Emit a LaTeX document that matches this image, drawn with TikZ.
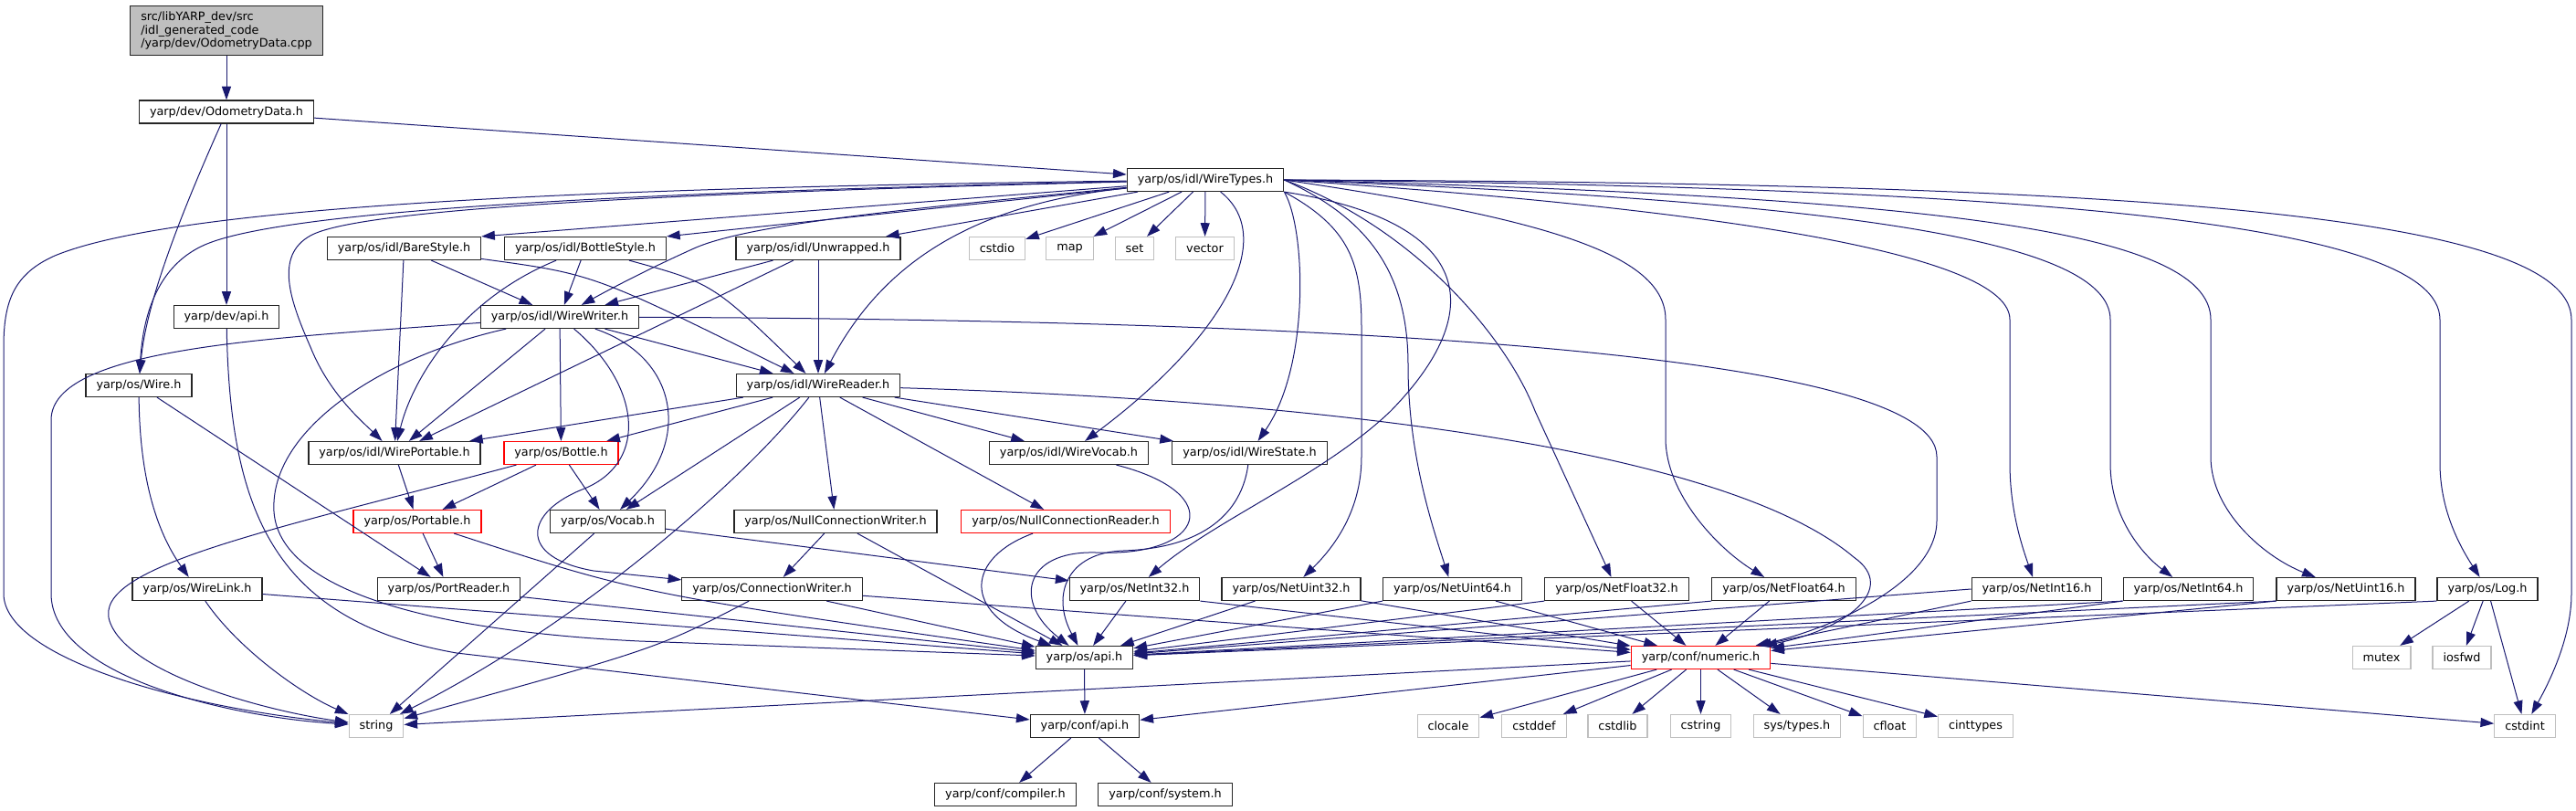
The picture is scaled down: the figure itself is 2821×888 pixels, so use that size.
\documentclass[tikz,border=0pt]{standalone}
\usepackage{fontspec}
\setmainfont{DejaVu Sans}
\usetikzlibrary{arrows.meta}
\definecolor{incblue}{RGB}{25,25,112}
\definecolor{grey75}{RGB}{191,191,191}

\begin{document}
\begin{tikzpicture}[x=0.75pt,y=-0.75pt,
  hdr/.style={draw=black!85,line width=0.9pt,fill=white,inner xsep=8.6pt,inner ysep=0pt,
    minimum height=18.75pt,font=\fontsize{9.6}{11.2}\selectfont},
  sys/.style={hdr,draw=grey75},
  cut/.style={hdr,draw=red},
  inc/.style={incblue,line width=0.75pt,-{Triangle[length=11pt,width=7.5pt]}}]
  \useasboundingbox (0,0) rectangle (2821,888);

  \node[hdr,fill=grey75,align=left,minimum height=41pt] (root) at (248,33.5)
    {src/libYARP\_dev/src\\/idl\_generated\_code\\/yarp/dev/OdometryData.cpp};
  \node[hdr] (odom) at (248,122.5) {yarp/dev/OdometryData.h};
  \node[hdr] (wtypes) at (1320,197) {yarp/os/idl/WireTypes.h};
  \node[hdr] (bare) at (442.5,272) {yarp/os/idl/BareStyle.h};
  \node[hdr] (bstyle) at (641,272) {yarp/os/idl/BottleStyle.h};
  \node[hdr] (unwr) at (896,272) {yarp/os/idl/Unwrapped.h};
  \node[sys] (cstdio) at (1092,272) {cstdio};
  \node[sys] (map) at (1171.5,272) {map};
  \node[sys] (set) at (1242.5,272) {set};
  \node[sys] (vector) at (1319.5,272) {vector};
  \node[hdr] (devapi) at (248,347) {yarp/dev/api.h};
  \node[hdr] (wwriter) at (613,347) {yarp/os/idl/WireWriter.h};
  \node[hdr] (wire) at (152,422) {yarp/os/Wire.h};
  \node[hdr] (wreader) at (896,422) {yarp/os/idl/WireReader.h};
  \node[hdr] (wport) at (432,496) {yarp/os/idl/WirePortable.h};
  \node[cut] (bottle) at (614.5,496) {yarp/os/Bottle.h};
  \node[hdr] (wvocab) at (1170.5,496) {yarp/os/idl/WireVocab.h};
  \node[hdr] (wstate) at (1368.5,496) {yarp/os/idl/WireState.h};
  \node[cut] (portable) at (457,571) {yarp/os/Portable.h};
  \node[hdr] (vocab) at (665.5,571) {yarp/os/Vocab.h};
  \node[hdr] (ncw) at (915,571) {yarp/os/NullConnectionWriter.h};
  \node[cut] (ncr) at (1167,571) {yarp/os/NullConnectionReader.h};
  \node[hdr] (wlink) at (216,645) {yarp/os/WireLink.h};
  \node[hdr] (preader) at (491.5,645) {yarp/os/PortReader.h};
  \node[hdr] (cwriter) at (845.5,645) {yarp/os/ConnectionWriter.h};
  \node[hdr] (ni32) at (1242.5,645) {yarp/os/NetInt32.h};
  \node[hdr] (nu32) at (1414,645) {yarp/os/NetUint32.h};
  \node[hdr] (nu64) at (1590.5,645) {yarp/os/NetUint64.h};
  \node[hdr] (nf32) at (1770.5,645) {yarp/os/NetFloat32.h};
  \node[hdr] (nf64) at (1953.5,645) {yarp/os/NetFloat64.h};
  \node[hdr] (ni16) at (2230.5,645) {yarp/os/NetInt16.h};
  \node[hdr] (ni64) at (2396.5,645) {yarp/os/NetInt64.h};
  \node[hdr] (nu16) at (2569,645) {yarp/os/NetUint16.h};
  \node[hdr] (log) at (2724,645) {yarp/os/Log.h};
  \node[hdr] (osapi) at (1187.5,720) {yarp/os/api.h};
  \node[cut] (numeric) at (1862.5,720) {yarp/conf/numeric.h};
  \node[sys] (mutex) at (2608,720) {mutex};
  \node[sys] (iosfwd) at (2696,720) {iosfwd};
  \node[sys] (string) at (412,795) {string};
  \node[hdr] (confapi) at (1188,795) {yarp/conf/api.h};
  \node[sys] (clocale) at (1586,795) {clocale};
  \node[sys] (cstddef) at (1680,795) {cstddef};
  \node[sys] (cstdlib) at (1771.5,795) {cstdlib};
  \node[sys] (cstring) at (1862.5,795) {cstring};
  \node[sys] (systypes) at (1968,795) {sys/types.h};
  \node[sys] (cfloat) at (2069.5,795) {cfloat};
  \node[sys] (cinttypes) at (2163.5,795) {cinttypes};
  \node[sys] (cstdint) at (2765,795) {cstdint};
  \node[hdr] (compiler) at (1101,870) {yarp/conf/compiler.h};
  \node[hdr] (system) at (1276,870) {yarp/conf/system.h};

  \draw[inc] (root) -- (odom);
  \draw[inc] (odom) -- (wtypes);
  \draw[inc] (odom) -- (devapi);
  \draw[inc] (odom) .. controls (200,230) and (160,330) .. (wire);
  \draw[inc] (devapi) .. controls (252,560) and (300,680) .. (500,715) -- (confapi);
  \draw[inc] (wire) .. controls (153,520) and (170,580) .. (wlink);
  \draw[inc] (wire) -- (preader);
  \draw[inc] (wlink) .. controls (260,710) and (330,760) .. (string);
  \draw[inc] (wlink) -- (osapi);
  \draw[inc] (preader) -- (osapi);

  \draw[inc] (wtypes) -- (bare.north east);
  \draw[inc] (wtypes) -- (bstyle.north east);
  \draw[inc] (wtypes) -- (unwr);
  \draw[inc] (wtypes) -- (cstdio);
  \draw[inc] (wtypes) -- (map);
  \draw[inc] (wtypes) -- (set);
  \draw[inc] (wtypes) -- (vector);
  \draw[inc] (wtypes) .. controls (1000,228) and (820,245) .. (760,272)
    .. controls (720,290) and (680,310) .. (wwriter);
  \draw[inc] (wtypes) .. controls (1050,225) and (960,300) .. (wreader);
  \draw[inc] (wtypes) .. controls (700,212) and (390,230) .. (340,258)
    .. controls (300,280) and (318,330) .. (340,380) .. controls (360,430) and (395,460) .. (wport);
  \draw[inc] (wtypes) .. controls (700,210) and (300,230) .. (220,270)
    .. controls (175,292) and (157,340) .. (wire);
  \draw[inc] (wtypes) .. controls (700,205) and (200,222) .. (60,280)
    .. controls (15,300) and (4,330) .. (4,380) -- (4,650) .. controls (4,720) and (200,775) .. (string);
  \draw[inc] (wtypes) .. controls (1400,260) and (1340,370) .. (wvocab);
  \draw[inc] (wtypes.south east) .. controls (1430,250) and (1435,400) .. (wstate);
  \draw[inc] (wtypes.south east) .. controls (1600,240) and (1640,330) .. (1523,450)
    .. controls (1450,520) and (1330,570) .. (ni32);
  \draw[inc] (wtypes.south east) .. controls (1480,250) and (1491,290) .. (1491,360)
    -- (1491,500) .. controls (1491,560) and (1460,600) .. (nu32);
  \draw[inc] (wtypes.east) .. controls (1500,240) and (1542,300) .. (1542,400)
    .. controls (1542,500) and (1570,580) .. (nu64);
  \draw[inc] (wtypes.east) .. controls (1550,250) and (1650,370) .. (1681,450) -- (nf32);
  \draw[inc] (wtypes.east) .. controls (1700,240) and (1824,280) .. (1824,350)
    -- (1824,480) .. controls (1824,540) and (1880,600) .. (nf64);
  \draw[inc] (wtypes.east) .. controls (1900,230) and (2201,280) .. (2201,350)
    -- (2201,507) .. controls (2201,560) and (2215,600) .. (ni16);
  \draw[inc] (wtypes.east) .. controls (2000,220) and (2311,260) .. (2311,350)
    -- (2311,507) .. controls (2311,570) and (2350,610) .. (ni64);
  \draw[inc] (wtypes.east) .. controls (2100,215) and (2421,250) .. (2421,350)
    -- (2421,500) .. controls (2421,560) and (2480,610) .. (nu16);
  \draw[inc] (wtypes.east) .. controls (2200,205) and (2672,240) .. (2672,350)
    -- (2672,507) .. controls (2672,560) and (2695,600) .. (log);
  \draw[inc] (wtypes.east) .. controls (2300,200) and (2816,230) .. (2816,350)
    -- (2816,650) .. controls (2816,700) and (2790,750) .. (cstdint);

  \draw[inc] (bare) -- (wport);
  \draw[inc] (bare) -- (wwriter);
  \draw[inc] (bare) .. controls (650,300) .. (wreader);
  \draw[inc] (bstyle) .. controls (500,330) and (450,420) .. (wport);
  \draw[inc] (bstyle) -- (wwriter);
  \draw[inc] (bstyle) .. controls (780,310) .. (wreader);
  \draw[inc] (unwr) -- (wport);
  \draw[inc] (unwr) -- (wwriter);
  \draw[inc] (unwr) -- (wreader);

  \draw[inc] (wwriter) -- (wport);
  \draw[inc] (wwriter) -- (bottle);
  \draw[inc] (wwriter) -- (wreader);
  \draw[inc] (wwriter) .. controls (740,390) and (760,480) .. (vocab);
  \draw[inc] (wwriter) .. controls (700,420) and (712,505) .. (640,535)
    .. controls (575,560) and (565,610) .. (650,625) -- (cwriter);
  \draw[inc] (wwriter) .. controls (420,390) and (295,470) .. (300,560)
    .. controls (305,640) and (450,690) .. (700,702) -- (osapi);
  \draw[inc] (wwriter) .. controls (300,370) and (56,380) .. (56,460)
    -- (56,650) .. controls (56,740) and (250,785) .. (string);
  \draw[inc] (wwriter) .. controls (1400,350) and (2121,380) .. (2121,500)
    -- (2121,570) .. controls (2121,640) and (2000,690) .. (numeric);

  \draw[inc] (wreader) -- (wport);
  \draw[inc] (wreader) -- (bottle);
  \draw[inc] (wreader) -- (vocab);
  \draw[inc] (wreader) -- (ncw);
  \draw[inc] (wreader) -- (ncr);
  \draw[inc] (wreader) -- (wvocab);
  \draw[inc] (wreader) -- (wstate);
  \draw[inc] (wreader) .. controls (820,520) and (640,680) .. (string);
  \draw[inc] (wreader) .. controls (1500,440) and (1900,500) .. (2030,610)
    .. controls (2080,645) and (2020,690) .. (numeric);

  \draw[inc] (wport) -- (portable);
  \draw[inc] (bottle) -- (portable);
  \draw[inc] (bottle) -- (vocab);
  \draw[inc] (bottle) .. controls (300,580) and (100,620) .. (120,680)
    .. controls (140,740) and (300,780) .. (string);
  \draw[inc] (wvocab) .. controls (1345,540) and (1320,610) .. (1200,605)
    .. controls (1120,603) and (1110,660) .. (osapi);
  \draw[inc] (wstate) .. controls (1360,560) and (1320,600) .. (1230,603)
    .. controls (1170,605) and (1150,650) .. (osapi);

  \draw[inc] (portable) -- (preader);
  \draw[inc] (portable) .. controls (700,650) .. (osapi);
  \draw[inc] (vocab) -- (ni32);
  \draw[inc] (vocab) -- (string);
  \draw[inc] (ncw) -- (cwriter);
  \draw[inc] (ncw) -- (osapi);
  \draw[inc] (ncr) .. controls (1060,610) and (1050,670) .. (osapi);

  \draw[inc] (cwriter) -- (osapi);
  \draw[inc] (cwriter) -- (numeric);
  \draw[inc] (cwriter) .. controls (720,710) .. (string);
  \draw[inc] (ni32) -- (osapi);
  \draw[inc] (ni32.south east) -- (numeric);
  \draw[inc] (nu32) -- (osapi);
  \draw[inc] (nu32) -- (numeric);
  \draw[inc] (nu64.south west) -- (osapi);
  \draw[inc] (nu64) -- (numeric);
  \draw[inc] (nf32.south west) -- (osapi);
  \draw[inc] (nf32) -- (numeric);
  \draw[inc] (nf64.south west) -- (osapi);
  \draw[inc] (nf64) -- (numeric);
  \draw[inc] (ni16.west) -- (osapi);
  \draw[inc] (ni16.south west) -- (numeric);
  \draw[inc] (ni64.south west) -- (osapi);
  \draw[inc] (ni64.south west) -- (numeric);
  \draw[inc] (nu16.south west) -- (osapi);
  \draw[inc] (nu16.south west) -- (numeric);
  \draw[inc] (log.south west) -- (osapi);
  \draw[inc] (log) -- (mutex);
  \draw[inc] (log) -- (iosfwd);
  \draw[inc] (log) -- (cstdint);

  \draw[inc] (osapi) -- (confapi);
  \draw[inc] (numeric) -- (confapi);
  \draw[inc] (numeric) -- (string);
  \draw[inc] (numeric) -- (clocale);
  \draw[inc] (numeric) -- (cstddef);
  \draw[inc] (numeric) -- (cstdlib);
  \draw[inc] (numeric) -- (cstring);
  \draw[inc] (numeric) -- (systypes);
  \draw[inc] (numeric) -- (cfloat);
  \draw[inc] (numeric) -- (cinttypes);
  \draw[inc] (numeric) -- (cstdint);
  \draw[inc] (confapi) -- (compiler);
  \draw[inc] (confapi) -- (system);
\end{tikzpicture}
\end{document}
